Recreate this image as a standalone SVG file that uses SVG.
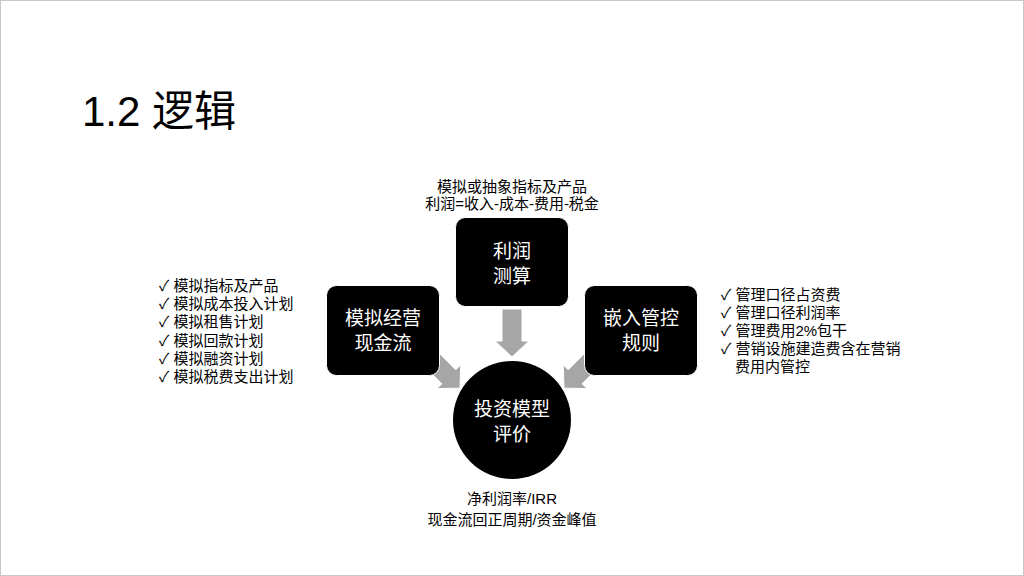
<svg xmlns="http://www.w3.org/2000/svg" width="1024" height="576" viewBox="0 0 1024 576">
<style>
text{font-family:"Liberation Sans","Noto Sans CJK SC",sans-serif}
.t{font-size:15px;fill:#000}
.w{font-size:19px;fill:#fff;text-anchor:middle}
.c{text-anchor:middle}
.box{fill:#000;stroke:#fff;stroke-width:1}
.arr{fill:#a6a6a6;stroke:#fff;stroke-width:1}
</style>
<defs>
<path id="ar" d="M-10,-48 L10,-48 L10,-16 L17,-16 L0,0 L-17,-16 L-10,-16 Z"/>
</defs>
<rect x="0.5" y="0.5" width="1023" height="575" fill="#fff" stroke="#c8c8c8"/>
<text x="82" y="126" style="font-size:42px">1.2 逻辑</text>
<g id="connectors">
<use href="#ar" class="arr" transform="translate(512,357)"/>
<use href="#ar" class="arr" transform="translate(460,388) rotate(-45)"/>
<use href="#ar" class="arr" transform="translate(564,388) rotate(45)"/>
</g>
<g id="node-profit">
<rect class="box" x="455.5" y="217.5" width="113" height="89" rx="10"/>
<text class="w" x="512" y="258">利润</text>
<text class="w" x="512" y="283">测算</text>
</g>
<g id="node-cashflow">
<rect class="box" x="326.5" y="285.5" width="113" height="90" rx="10"/>
<text class="w" x="383" y="325">模拟经营</text>
<text class="w" x="383" y="350">现金流</text>
</g>
<g id="node-rules">
<rect class="box" x="584.5" y="285.5" width="113" height="90" rx="10"/>
<text class="w" x="641" y="325">嵌入管控</text>
<text class="w" x="641" y="350">规则</text>
</g>
<g id="node-eval">
<circle cx="512" cy="420" r="59" fill="#000"/>
<text class="w" x="512" y="416">投资模型</text>
<text class="w" x="512" y="441">评价</text>
</g>
<g id="labels">
<text class="t c" x="512" y="192">模拟或抽象指标及产品</text>
<text class="t c" x="512" y="209">利润=收入-成本-费用-税金</text>
<text class="t c" x="512" y="504">净利润率/IRR</text>
<text class="t c" x="512" y="525">现金流回正周期/资金峰值</text>
<text class="t" x="159" y="291">✓ 模拟指标及产品</text>
<text class="t" x="159" y="309">✓ 模拟成本投入计划</text>
<text class="t" x="159" y="327">✓ 模拟租售计划</text>
<text class="t" x="159" y="346">✓ 模拟回款计划</text>
<text class="t" x="159" y="364">✓ 模拟融资计划</text>
<text class="t" x="159" y="382">✓ 模拟税费支出计划</text>
<text class="t" x="721" y="300">✓ 管理口径占资费</text>
<text class="t" x="721" y="318">✓ 管理口径利润率</text>
<text class="t" x="721" y="336">✓ 管理费用2%包干</text>
<text class="t" x="721" y="354">✓ 营销设施建造费含在营销</text>
<text class="t" x="735" y="372">费用内管控</text>
</g>
</svg>
